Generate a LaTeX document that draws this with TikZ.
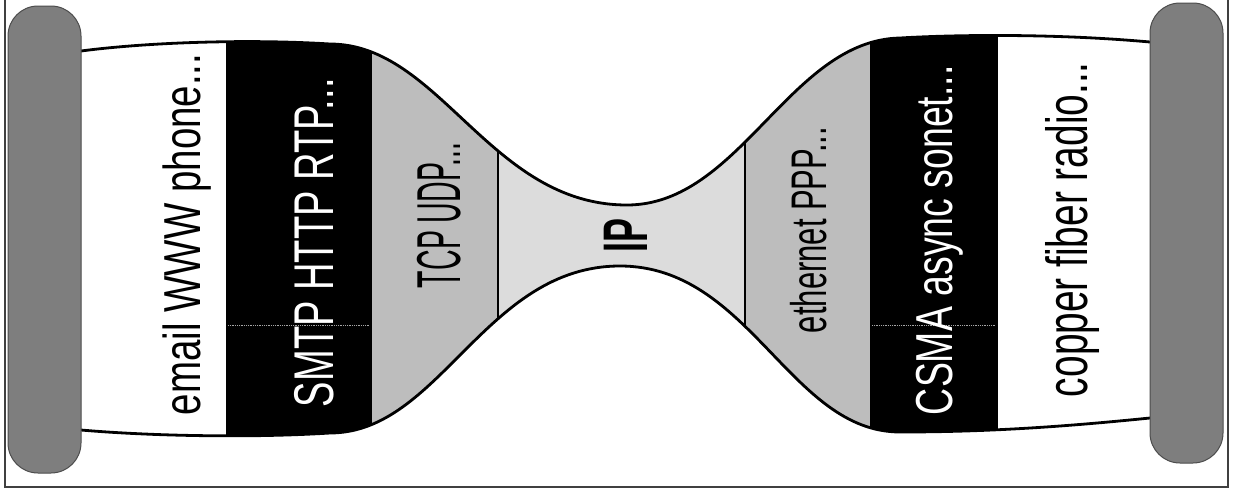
\documentclass[tikz,border=0pt]{standalone}
\usepackage{fontspec}
\setmainfont{Liberation Sans}
\usepackage{graphicx}
\definecolor{rollergray}{HTML}{7E7E7E}
\definecolor{midgray}{HTML}{BDBDBD}
\definecolor{lightgray}{HTML}{DCDCDC}
\begin{document}
\begin{tikzpicture}[x=1pt,y=-1pt,
  lbl/.style={rotate=90, anchor=base west, inner sep=0pt, outer sep=0pt},
  edgeline/.style={line width=2.8pt, black},
  divider/.style={line width=2pt, black},
  roller/.style={fill=rollergray, draw=black!70, line width=1pt, rounded corners=30pt},
  frameline/.style={black!75, line width=1.2pt},
  fold/.style={gray!70, densely dotted, line width=0.8pt}]
\useasboundingbox (0,0) rectangle (1235,491);
\fill[white] (0,0) rectangle (1235,491);

% banner columns clipped to hourglass shape
\begin{scope}
\clip (81,51) .. controls (150,42) and (250,39) .. (330,44)
  .. controls (440,44) and (490,205) .. (627,205)
  .. controls (740,205) and (790,40) .. (900,38)
  .. controls (950,35) and (1050,33) .. (1150,42)
  -- (1150,418)
  .. controls (1080,425) and (1000,432) .. (900,432)
  .. controls (790,432) and (750,266) .. (620,266)
  .. controls (485,266) and (440,433) .. (330,433)
  .. controls (250,438) and (150,436) .. (81,430) -- cycle;
\fill[white] (81,0) rectangle (226,491);
\fill[black] (226,0) rectangle (372,491);
\fill[midgray] (372,0) rectangle (498,491);
\fill[lightgray] (498,0) rectangle (745,491);
\fill[midgray] (745,0) rectangle (870,491);
\fill[black] (870,0) rectangle (998,491);
\fill[white] (998,0) rectangle (1150,491);
\draw[divider] (498,0) -- (498,491);
\draw[divider] (745,0) -- (745,491);
\draw[fold] (228,325) -- (370,325);
\draw[fold] (872,325) -- (996,325);
\end{scope}

% outline of banner
\draw[edgeline] (81,51) .. controls (150,42) and (250,39) .. (330,44)
  .. controls (440,44) and (490,205) .. (627,205)
  .. controls (740,205) and (790,40) .. (900,38)
  .. controls (950,35) and (1050,33) .. (1150,42);
\draw[edgeline] (81,430) .. controls (150,436) and (250,438) .. (330,433)
  .. controls (440,433) and (485,266) .. (620,266)
  .. controls (750,266) and (790,432) .. (900,432)
  .. controls (1000,432) and (1080,425) .. (1150,418);

% rollers
\draw[roller] (8,6) rectangle (81,473);
\draw[roller] (1150,3) rectangle (1223,463);

% labels
\node[lbl, font=\fontsize{52}{60}\selectfont] (app) at (200,415)
  {\scalebox{0.74}[1]{email WWW phone...}};
\node[lbl, text=white, font=\fontsize{56}{60}\selectfont] (appproto) at (333,407)
  {\scalebox{0.68}[1]{SMTP HTTP RTP...}};
\node[lbl, font=\fontsize{62}{66}\selectfont] (transport) at (460,288)
  {\scalebox{0.46}[1]{TCP UDP...}};
\node[lbl, font=\bfseries\fontsize{63}{66}\selectfont] (ip) at (647,252)
  {\scalebox{0.57}[1]{IP}};
\node[lbl, font=\fontsize{50}{56}\selectfont] (link) at (826,333)
  {\scalebox{0.62}[1]{ethernet PPP...}};
\node[lbl, text=white, font=\fontsize{52}{60}\selectfont] (mac) at (952,415)
  {\scalebox{0.72}[1]{CSMA async sonet...}};
\node[lbl, font=\fontsize{58}{64}\selectfont] (phys) at (1087,397)
  {\scalebox{0.67}[1]{copper fiber radio...}};

% frame
\draw[frameline] (5,0) -- (5,487) -- (1228,487) -- (1228,0);
\end{tikzpicture}
\end{document}
